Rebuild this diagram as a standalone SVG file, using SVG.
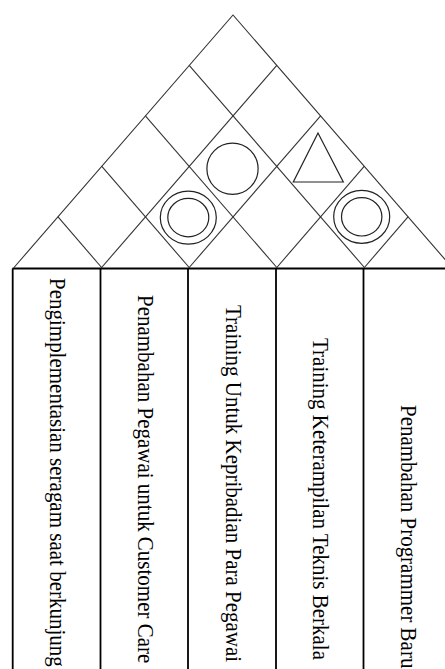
<svg xmlns="http://www.w3.org/2000/svg" width="445" height="669" viewBox="0 0 445 669">
<style>
.roof{stroke:#333;stroke-width:1.1;fill:none}
.sym{stroke:#222;stroke-width:1.2;fill:none}
.tbl{stroke:#000;stroke-width:1.8;fill:none}
.lbl{font-family:"Liberation Serif","Times New Roman",serif;font-size:21px;fill:#000}
</style>
<rect width="445" height="669" fill="#fff"/>
<g id="roof">
<polyline class="roof" points="14,267.5 233,15 452,267.5"/>
<line class="roof" x1="101.6" y1="267.5" x2="276.8" y2="65.4"/>
<line class="roof" x1="189.2" y1="267.5" x2="320.6" y2="115.8"/>
<line class="roof" x1="276.8" y1="267.5" x2="364.4" y2="166.2"/>
<line class="roof" x1="364.4" y1="267.5" x2="408.2" y2="216.6"/>
<line class="roof" x1="364.4" y1="267.5" x2="189.2" y2="65.4"/>
<line class="roof" x1="276.8" y1="267.5" x2="145.4" y2="115.8"/>
<line class="roof" x1="189.2" y1="267.5" x2="101.6" y2="166.2"/>
<line class="roof" x1="101.6" y1="267.5" x2="57.8" y2="216.6"/>
</g>
<g id="sym-1-2">
<ellipse class="sym" cx="188.3" cy="217.6" rx="28" ry="26.5"/>
<ellipse class="sym" cx="188.3" cy="217.6" rx="20.5" ry="19.2"/>
</g>
<g id="sym-1-3">
<circle class="sym" cx="232.5" cy="168.8" r="25.6"/>
</g>
<g id="sym-2-4">
<polygon class="sym" points="318,133 293.3,182 343.3,182"/>
</g>
<g id="sym-3-4">
<ellipse class="sym" cx="361.7" cy="216.8" rx="28" ry="26.5"/>
<ellipse class="sym" cx="361.7" cy="216.8" rx="20.2" ry="19.2"/>
</g>
<g id="table">
<line class="tbl" x1="12.5" y1="268.5" x2="445" y2="268.5"/>
<line class="tbl" x1="12.7" y1="268.5" x2="12.7" y2="669"/>
<line class="tbl" x1="100.5" y1="268.5" x2="100.5" y2="669"/>
<line class="tbl" x1="188" y1="268.5" x2="188" y2="669"/>
<line class="tbl" x1="276" y1="268.5" x2="276" y2="669"/>
<line class="tbl" x1="363.5" y1="268.5" x2="363.5" y2="669"/>
</g>
<g id="col1"><text class="lbl" transform="translate(50,278) rotate(90) scale(1,1.12)">Pengimplementasian seragam saat berkunjung</text></g>
<g id="col2"><text class="lbl" transform="translate(138,295) rotate(90) scale(1,1.12)">Penambahan Pegawai untuk Customer Care</text></g>
<g id="col3"><text class="lbl" transform="translate(225.5,305) rotate(90) scale(1,1.12)">Training Untuk Kepribadian Para Pegawai</text></g>
<g id="col4"><text class="lbl" transform="translate(313,338) rotate(90) scale(1,1.12)">Training Keterampilan Teknis Berkala</text></g>
<g id="col5"><text class="lbl" transform="translate(401,405) rotate(90) scale(1,1.12)">Penambahan Programmer Baru</text></g>
</svg>
